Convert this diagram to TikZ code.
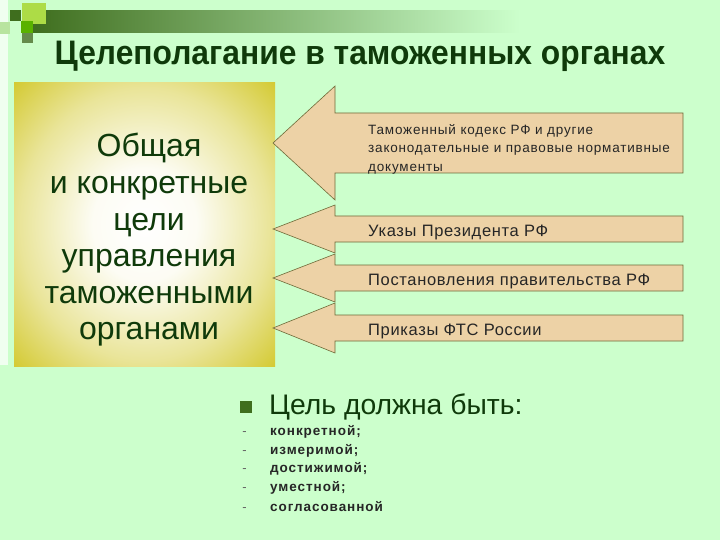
\documentclass[tikz,border=0pt]{standalone}
\usepackage{fontspec}
\setmainfont{Liberation Sans}
\usetikzlibrary{positioning,calc}
\definecolor{bg}{HTML}{CCFFCC}
\definecolor{leaf}{HTML}{0F3A0A}
\definecolor{moss}{HTML}{3F6E1E}
\definecolor{olive}{HTML}{CFC41C}
\definecolor{tan}{HTML}{EDD2A6}
\definecolor{rim}{HTML}{6E6A38}
\pgfdeclareradialshading{goalglow}{\pgfpoint{0bp}{0bp}}{color(0bp)=(white);color(10bp)=(white!95!olive);color(24bp)=(white!55!olive);color(38bp)=(olive);color(50bp)=(olive)}
\tikzset{goalbox/.style={shading=goalglow,draw=none},
  docarrow/.style={draw=rim,fill=tan,line width=.6pt},
  doctext/.style={anchor=west,inner sep=0pt,text=black!85,align=left},
  listitem/.style={anchor=base west,inner sep=0pt,font=\bfseries\fontsize{13.5}{16}\selectfont\addfontfeature{LetterSpace=7},text=black!85}}
\begin{document}
\begin{tikzpicture}[x=1pt,y=-1pt]
\fill[bg](0,0)rectangle(720,540);
\useasboundingbox(0,0)rectangle(720,540);
% corner squares and bar
\fill[white!70!bg](0,0)rectangle(8,365);
\shade[left color=moss,right color=bg](32,11)rectangle(520,33);
\fill[yellow!60!green!80](22,3)rectangle(46,24);
\fill[moss](10,10)rectangle(21,21);
\fill[green!50!yellow!70!black](21,21)rectangle(33,33);
\fill[moss!80](22,33)rectangle(33,43);
\fill[yellow!30!green!40](0,22)rectangle(10,34);
\node[font=\bfseries\fontsize{34}{38}\selectfont,text=leaf,xscale=.935](title) at (360,56){Целеполагание в таможенных органах};
% goals box
\shade[goalbox](14,83)rectangle(275,366);
\node[align=center,font=\fontsize{32}{36.6}\selectfont,text=leaf](goals) at (149,240){Общая\\и конкретные\\цели\\управления\\таможенными\\органами};
% document arrows
\foreach \c/\s/\h/\n in {143/30/57/1,229/13/24/2,278/13/24/3,328/13/25/4}{
  \draw[docarrow](273,\c)--(335,\c-\h)--(335,\c-\s)--(683,\c-\s)--(683,\c+\s)--(335,\c+\s)--(335,\c+\h)--cycle;
  \coordinate(d\n) at (368,\c+3);}
\node[doctext,font=\fontsize{13.5}{18.5}\selectfont\addfontfeature{LetterSpace=6}](doc1) at ($(d1)+(0,3)$){Таможенный кодекс РФ и другие\\законодательные и правовые нормативные\\документы};
\foreach \n/\t in {2/Указы Президента РФ,3/Постановления правительства РФ,4/Приказы ФТС России}
  \node[doctext,font=\fontsize{16.5}{18}\selectfont\addfontfeature{LetterSpace=4}](doc\n) at (d\n){\t};
% requirements
\fill[moss](240,401)rectangle(252,413);
\node[anchor=west,inner sep=0pt,font=\fontsize{28.3}{30}\selectfont,text=leaf](must) at (269,407){Цель должна быть:};
\foreach \y/\t/\n in {430/конкретной;/1,449/измеримой;/2,467/достижимой;/3,486/уместной;/4,506/согласованной/5}{
  \node[listitem](req\n) at (270,\y+5){\t};
  \node[anchor=base east,inner sep=0pt,text=black!60,font=\fontsize{13}{16}\selectfont] at (247,\y+5){-};}
\end{tikzpicture}
\end{document}
